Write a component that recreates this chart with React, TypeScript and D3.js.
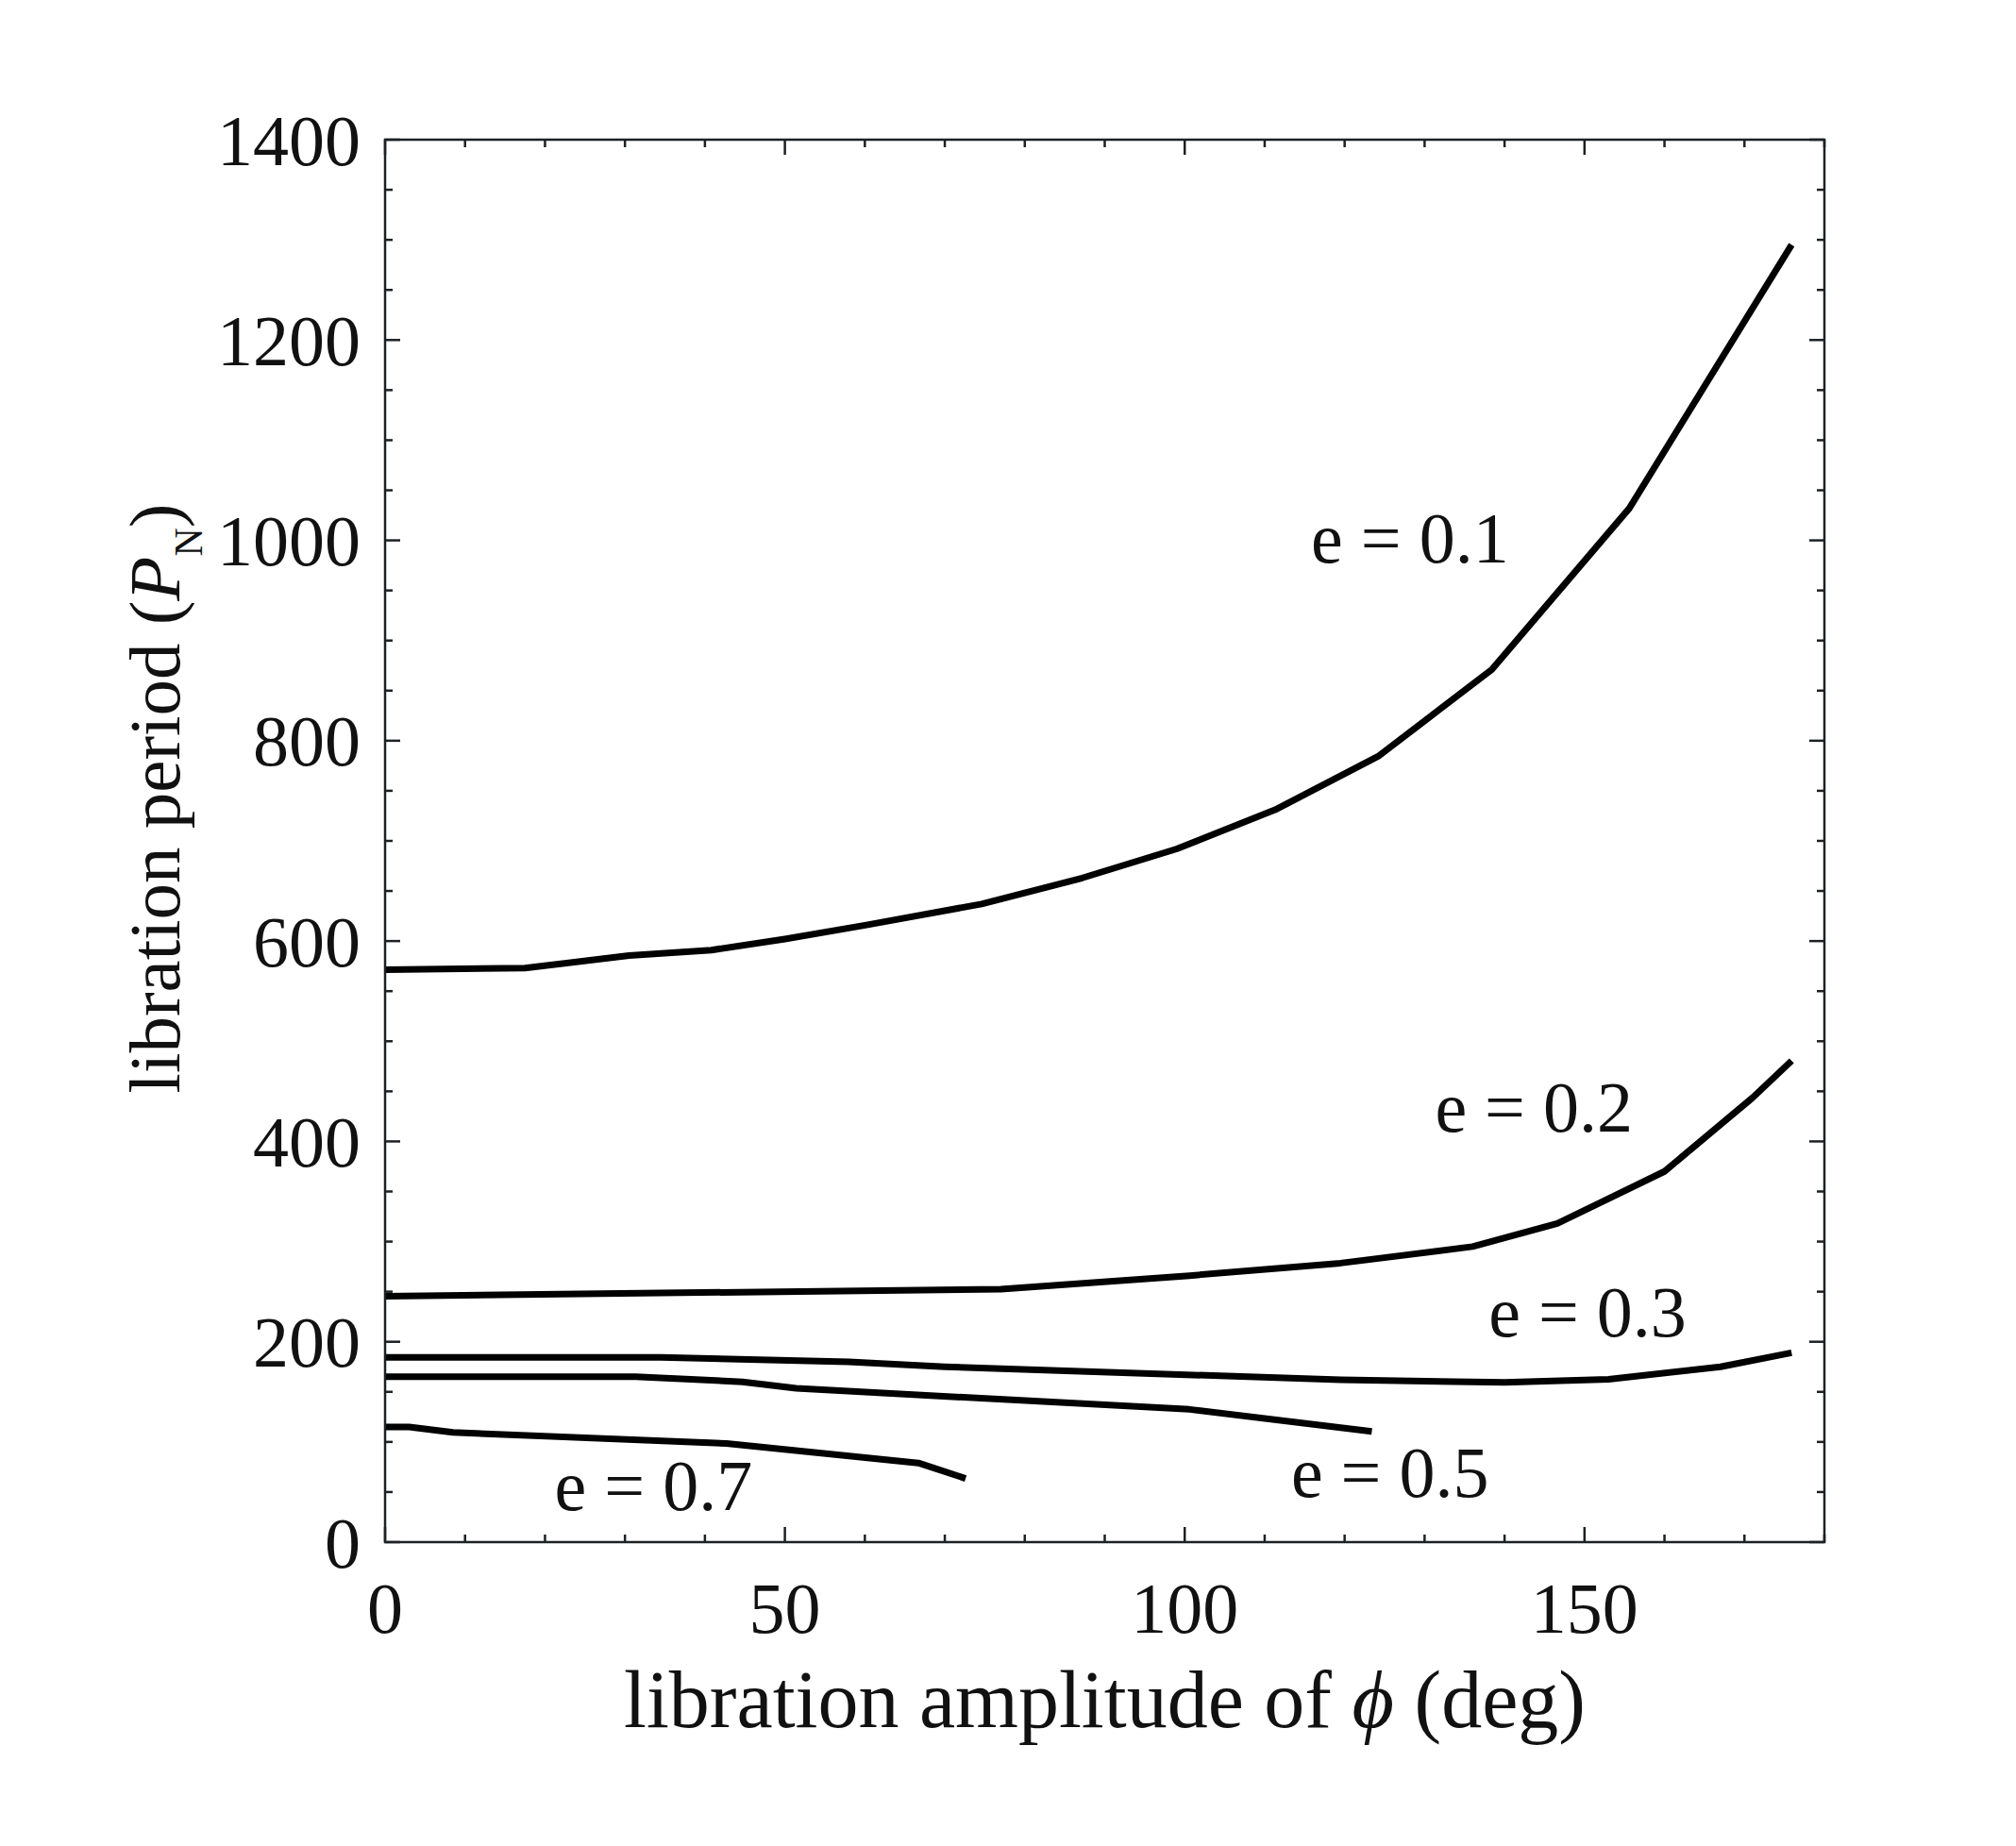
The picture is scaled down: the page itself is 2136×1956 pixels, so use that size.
import React from "react";
import * as d3 from "d3";

type Pt = [number, number];

const e01: Pt[] = [[0, 571.5], [17.5, 573], [30.5, 585.5], [40.8, 591], [50, 602], [60.2, 616], [74.6, 637], [87.2, 663], [99, 692], [111.3, 731], [124.3, 785], [138.4, 871], [155.6, 1032], [175.9, 1295]];
const e02: Pt[] = [[0, 245.5], [77, 252.5], [100.6, 266], [119.5, 278.5], [136, 295], [146.6, 318], [160, 370], [171, 443.5], [175.9, 480.5]];
const e03: Pt[] = [[0, 184.5], [34.5, 184.5], [58, 180], [70, 175], [119.5, 162], [140, 159.5], [153, 162.5], [167, 175], [175.9, 189]];
const e05: Pt[] = [[0, 165], [31.3, 165], [44.7, 160], [51.4, 153.5], [100.6, 132.5], [123.4, 110.5]];
const e07: Pt[] = [[0, 115], [3, 115], [8.5, 109.5], [42.7, 98.5], [66.7, 79], [72.6, 63.5]];

const seriesList = [e01, e02, e03, e05, e07];
const labelTexts = ["e = 0.1", "e = 0.2", "e = 0.3", "e = 0.5", "e = 0.7"];
const labelAnchors: Pt[] = [[115.8, 978], [131.3, 410], [138, 205.4], [113.3, 45.2], [21.2, 32]];

const xDomain: [number, number] = [0, 180];
const yDomain: [number, number] = [0, 1400];
const xMajor = [0, 50, 100, 150];
const yMajor = [0, 200, 400, 600, 800, 1000, 1200, 1400];

const W = 2136;
const H = 1956;
const FONT = "'Liberation Serif', 'Times New Roman', serif";
const AX = "#1c2124";

export default function App() {
  const x = d3.scaleLinear().domain(xDomain).range([408, 1933]);
  const y = d3.scaleLinear().domain(yDomain).range([1634, 148]);
  const line = d3
    .line<Pt>()
    .x((d) => x(d[0]))
    .y((d) => y(d[1]));

  const xMinor = d3.range(0, 181, 10).filter((v) => !xMajor.includes(v));
  const yMinor = d3.range(0, 1401, 50).filter((v) => !yMajor.includes(v));
  const [x0, x1] = x.range();
  const [y0, y1] = y.range();
  const MJ = 16;
  const MN = 8;

  return (
    <svg
      width={W}
      height={H}
      viewBox={`0 0 ${W} ${H}`}
      style={{ position: "absolute", left: 0, top: 0, background: "#fff" }}
      fontFamily={FONT}
    >
      <rect x={0} y={0} width={W} height={H} fill="#fff" />
      <g stroke={AX} strokeWidth={2.5}>
        {xMajor.map((v) => (
          <g key={"xm" + v}>
            <line x1={x(v)} x2={x(v)} y1={y0} y2={y0 - MJ} />
            <line x1={x(v)} x2={x(v)} y1={y1} y2={y1 + MJ} />
          </g>
        ))}
        {xMinor.map((v) => (
          <g key={"xn" + v}>
            <line x1={x(v)} x2={x(v)} y1={y0} y2={y0 - MN} />
            <line x1={x(v)} x2={x(v)} y1={y1} y2={y1 + MN} />
          </g>
        ))}
        {yMajor.map((v) => (
          <g key={"ym" + v}>
            <line x1={x0} x2={x0 + MJ} y1={y(v)} y2={y(v)} />
            <line x1={x1} x2={x1 - MJ} y1={y(v)} y2={y(v)} />
          </g>
        ))}
        {yMinor.map((v) => (
          <g key={"yn" + v}>
            <line x1={x0} x2={x0 + MN} y1={y(v)} y2={y(v)} />
            <line x1={x1} x2={x1 - MN} y1={y(v)} y2={y(v)} />
          </g>
        ))}
      </g>
      {seriesList.map((s, i) => (
        <path key={"s" + i} d={line(s) || ""} fill="none" stroke="#000" strokeWidth={7} strokeLinejoin="round" />
      ))}
      <rect x={x0} y={y1} width={x1 - x0} height={y0 - y1} fill="none" stroke={AX} strokeWidth={2.5} />
      <g fontSize={76} fill="#111">
        {yMajor.map((v) => (
          <text key={"yl" + v} x={x0 - 26} y={y(v)} dy="0.35em" textAnchor="end">
            {v}
          </text>
        ))}
        {xMajor.map((v) => (
          <text key={"xl" + v} x={x(v)} y={1730} textAnchor="middle">
            {v}
          </text>
        ))}
      </g>
      <g fontSize={76} fill="#111">
        {labelTexts.map((t, i) => (
          <text key={"a" + i} x={x(labelAnchors[i][0])} y={y(labelAnchors[i][1])} xmlSpace="preserve">
            {t}
          </text>
        ))}
      </g>
      <text x={(x0 + x1) / 2} y={1830} fontSize={86} textAnchor="middle" fill="#111">
        libration amplitude of <tspan fontStyle="italic">ϕ</tspan> (deg)
      </text>
      <text
        transform={`translate(190, 846) rotate(-90)`}
        fontSize={77}
        textAnchor="middle"
        fill="#111"
      >
        libration period (<tspan fontStyle="italic">P</tspan>
        <tspan fontSize={42} dy={24}>N</tspan>
        <tspan dy={-24}>)</tspan>
      </text>
    </svg>
  );
}
